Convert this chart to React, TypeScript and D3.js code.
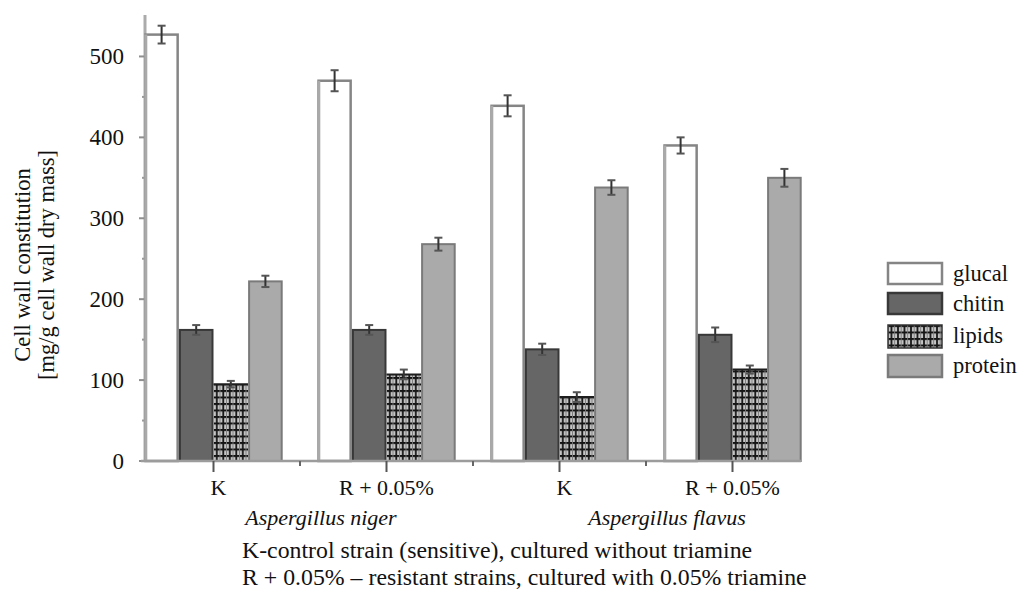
import React from "react";
import * as d3 from "d3";

// Strain/treatment categories along the x axis
const groupLabels = ["K", "R + 0.05%", "K", "R + 0.05%"];
const speciesLabels = ["Aspergillus niger", "Aspergillus flavus"];
const seriesNames = ["glucal", "chitin", "lipids", "protein"];

// Cell wall components, mg/g cell wall dry mass
const glucal = [527, 470, 439, 390];
const chitin = [162, 162, 138, 156];
const lipids = [95, 107, 79, 113];
const protein = [222, 268, 338, 350];

// Standard deviations drawn as error bars
const glucalErr = [11, 13, 13, 10];
const chitinErr = [6, 6, 7, 9];
const lipidsErr = [4, 6, 6, 5];
const proteinErr = [7, 8, 9, 11];

const yTicks = [0, 100, 200, 300, 400, 500];
const yMinorTicks = [50, 150, 250, 350, 450];

const footnotes = [
  "K-control strain (sensitive), cultured without triamine",
  "R + 0.05% \u2013 resistant strains, cultured with 0.05% triamine",
];

const W = 1026;
const H = 589;
const FONT = "'Liberation Serif', 'Times New Roman', serif";

const values = [glucal, chitin, lipids, protein];
const errors = [glucalErr, chitinErr, lipidsErr, proteinErr];

type BarStyle = { fill: string; stroke: string; sw: number };
const styles: Record<string, BarStyle> = {
  glucal: { fill: "#ffffff", stroke: "#858585", sw: 2.5 },
  chitin: { fill: "#666666", stroke: "#383838", sw: 2 },
  lipids: { fill: "url(#plaid)", stroke: "none", sw: 0 },
  protein: { fill: "#aaaaaa", stroke: "#7a7a7a", sw: 2 },
};

export default function App() {
  const y = d3.scaleLinear().domain([0, 550]).range([461, 16]);
  const x0 = d3
    .scaleBand<number>()
    .domain(d3.range(groupLabels.length))
    .range([127, 819])
    .paddingInner(0.2)
    .paddingOuter(0.1);
  const x1 = d3
    .scaleBand<string>()
    .domain(seriesNames)
    .range([0, x0.bandwidth()])
    .padding(0);

  const axisX = 145;
  const groupCenter = (i: number) => (x0(i) as number) + x0.bandwidth() / 2;

  // Boundaries between groups sit half a gap outside each group
  const gapHalf = (x0.step() - x0.bandwidth()) / 2;
  const groupEdges = d3
    .range(1, groupLabels.length)
    .map((i) => (x0(i - 1) as number) + x0.bandwidth() + gapHalf);

  const legendY = [263, 293, 325, 355];
  const legendH = [21, 21, 23, 22];

  return (
    <svg
      width={W}
      height={H}
      style={{ position: "absolute", left: 0, top: 0, background: "#fff" }}
      fontFamily={FONT}
    >
      <defs>
        <pattern id="plaid" width="6.5" height="6.5" patternUnits="userSpaceOnUse">
          <rect width="6.5" height="6.5" fill="#c6c6c6" />
          <path d="M0 1H6.5" stroke="#121212" strokeWidth="2" />
          <path d="M1 0V6.5" stroke="#161616" strokeWidth="1.8" />
          <path d="M4.2 0V6.5" stroke="#7a7a7a" strokeWidth="0.9" />
        </pattern>
      </defs>

      {/* y axis */}
      <line x1={axisX} x2={axisX} y1={15} y2={y(0)} stroke="#ababab" strokeWidth={3} />
      {yMinorTicks.map((t) => (
        <line key={"m" + t} x1={axisX - 3} x2={axisX} y1={y(t)} y2={y(t)} stroke="#9a9a9a" strokeWidth={2} />
      ))}
      {yTicks.map((t) => (
        <g key={t}>
          <line x1={axisX - 6} x2={axisX} y1={y(t)} y2={y(t)} stroke="#8f8f8f" strokeWidth={2} />
          <text x={124} y={y(t) + 8} textAnchor="end" fontSize={23} fill="#111">
            {t}
          </text>
        </g>
      ))}

      {/* y axis title */}
      <text transform="translate(30,265) rotate(-90)" textAnchor="middle" fontSize={22.5} fill="#111">
        Cell wall constitution
      </text>
      <text transform="translate(54,265) rotate(-90)" textAnchor="middle" fontSize={22.5} fill="#111">
        [mg/g cell wall dry mass]
      </text>

      {/* bars */}
      {groupLabels.map((_, gi) => (
        <g key={gi} transform={`translate(${x0(gi)},0)`}>
          {seriesNames.map((s, si) => {
            const v = values[si][gi];
            const bx = x1(s) as number;
            const bw = x1.bandwidth();
            const st = styles[s];
            return (
              <g key={s}>
                <rect
                  x={bx + st.sw / 2}
                  y={y(v)}
                  width={bw - st.sw}
                  height={y(0) - y(v)}
                  fill={st.fill}
                  stroke={st.stroke}
                  strokeWidth={st.sw}
                />
                {s === "glucal" && (
                  <line x1={bx + 1.5} x2={bx + 1.5} y1={y(v)} y2={y(0)} stroke="#a9a9a9" strokeWidth={3} />
                )}
                {s === "lipids" && (
                  <line x1={bx} x2={bx + bw} y1={y(v)} y2={y(v)} stroke="#1e1e1e" strokeWidth={2} />
                )}
              </g>
            );
          })}
        </g>
      ))}

      {/* error bars */}
      {groupLabels.map((_, gi) =>
        seriesNames.map((s, si) => {
          const v = values[si][gi];
          const e = errors[si][gi];
          const cx = (x0(gi) as number) + (x1(s) as number) + x1.bandwidth() / 2;
          return (
            <g key={gi + s} stroke="#333" strokeWidth={2}>
              <line x1={cx} x2={cx} y1={y(v + e)} y2={y(v - e)} />
              <line x1={cx - 4} x2={cx + 4} y1={y(v + e)} y2={y(v + e)} stroke="#555" />
              <line x1={cx - 4} x2={cx + 4} y1={y(v - e)} y2={y(v - e)} stroke="#555" />
            </g>
          );
        })
      )}

      {/* x axis */}
      <line x1={141} x2={801} y1={y(0)} y2={y(0)} stroke="#9c9c9c" strokeWidth={2.5} />
      {groupLabels.map((_, gi) => (
        <line key={"c" + gi} x1={groupCenter(gi)} x2={groupCenter(gi)} y1={y(0)} y2={y(0) + 11} stroke="#555" strokeWidth={2} />
      ))}
      {groupEdges.map((gx, i) => (
        <line key={"e" + i} x1={gx} x2={gx} y1={y(0)} y2={y(0) + 5} stroke="#666" strokeWidth={2} />
      ))}
      {groupLabels.map((l, gi) => (
        <text key={"l" + gi} x={groupCenter(gi) + (l === "K" ? 5 : 0)} y={495} textAnchor="middle" fontSize={22} fill="#111">
          {l}
        </text>
      ))}
      {speciesLabels.map((sp, i) => (
        <text
          key={sp}
          x={(groupCenter(2 * i) + groupCenter(2 * i + 1)) / 2 + 21}
          y={525}
          textAnchor="middle"
          fontSize={22}
          fontStyle="italic"
          fill="#111"
        >
          {sp}
        </text>
      ))}
      {footnotes.map((f, i) => (
        <text key={i} x={242} y={558 + i * 27} fontSize={23.8} fill="#111">
          {f}
        </text>
      ))}

      {/* legend */}
      {seriesNames.map((s, i) => {
        const st = styles[s];
        return (
          <g key={"lg" + s}>
            <rect
              x={888}
              y={legendY[i]}
              width={54}
              height={legendH[i]}
              fill={st.fill}
              stroke={s === "lipids" ? "#333" : st.stroke}
              strokeWidth={s === "lipids" ? 1.5 : 2.5}
            />
            <text x={953} y={legendY[i] + 18} fontSize={22.5} fill="#111">
              {s}
            </text>
          </g>
        );
      })}
    </svg>
  );
}
